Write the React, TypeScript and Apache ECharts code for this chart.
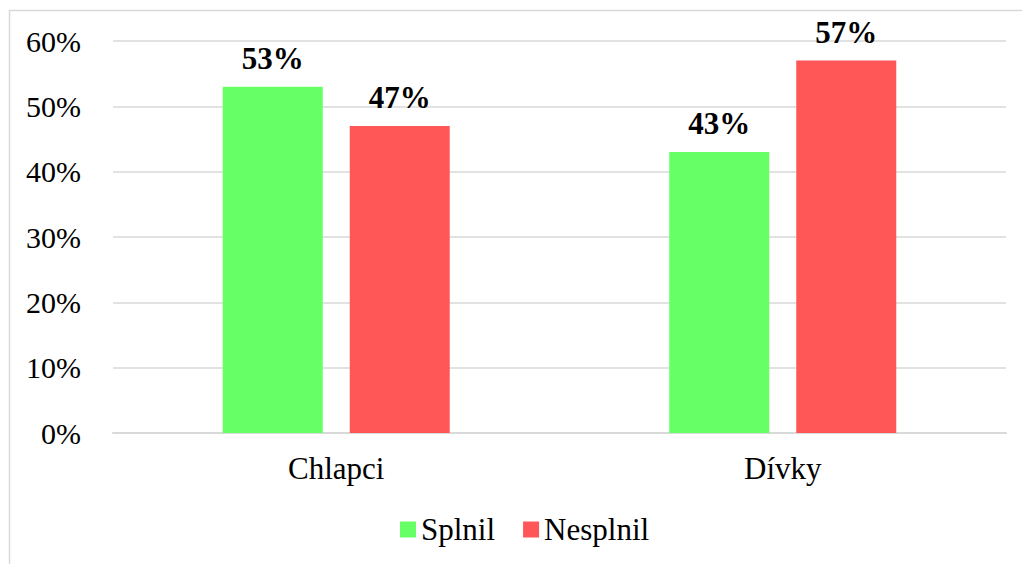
import React, { useEffect, useRef } from "react";
import * as echarts from "echarts";

const categories = ["Chlapci", "Dívky"];
const splnil = [53, 43];
const nesplnil = [47, 57];
const seriesNames = ["Splnil", "Nesplnil"];
const yTicks = [0, 10, 20, 30, 40, 50, 60];

const FONT = "Liberation Serif";

export default function App() {
  const ref = useRef<HTMLDivElement>(null);
  useEffect(() => {
    if (!ref.current) return;
    const chart = echarts.init(ref.current, null, { renderer: "svg" });
    const label = {
      show: true,
      position: "top",
      distance: 13,
      formatter: (p: any) => `${p.value}%`,
      fontFamily: FONT,
      fontSize: 31,
      fontWeight: "bold",
      color: "#000",
    };
    chart.setOption({
      animation: false,
      backgroundColor: "#fff",
      textStyle: { fontFamily: FONT },
      graphic: [
        {
          type: "rect",
          shape: { x: 9.5, y: 10.5, width: 1030, height: 600 },
          style: { fill: "none", stroke: "#d9d9d9", lineWidth: 1.5 },
          silent: true,
        },
      ],
      legend: {
        data: seriesNames,
        left: 395,
        top: 509,
        itemWidth: 16,
        itemHeight: 16,
        itemGap: 28,
        icon: "rect",
        textStyle: { fontFamily: FONT, fontSize: 31, color: "#000" },
      },
      grid: { left: 113, right: 16, top: 41, bottom: 131 },
      xAxis: {
        type: "category",
        data: categories,
        axisLine: { lineStyle: { color: "#d9d9d9", width: 2 } },
        axisTick: { show: false },
        axisLabel: { fontFamily: FONT, fontSize: 31, color: "#000", margin: 20 },
      },
      yAxis: {
        type: "value",
        min: yTicks[0],
        max: yTicks[yTicks.length - 1],
        interval: 10,
        axisLine: { show: false },
        axisTick: { show: false },
        splitLine: { lineStyle: { color: "#d9d9d9", width: 1.5 } },
        axisLabel: {
          fontFamily: FONT,
          fontSize: 30,
          color: "#000",
          margin: 32,
          formatter: (v: number) => `${v}%`,
        },
      },
      series: [
        {
          name: seriesNames[0],
          type: "bar",
          data: splnil,
          barWidth: 100,
          barGap: "27%",
          itemStyle: { color: "#66ff66" },
          label,
        },
        {
          name: seriesNames[1],
          type: "bar",
          data: nesplnil,
          barWidth: 100,
          itemStyle: { color: "#ff5757" },
          label,
        },
      ],
    });
    return () => chart.dispose();
  }, []);
  return (
    <div
      ref={ref}
      style={{ position: "absolute", left: 0, top: 0, width: 1022, height: 564 }}
    />
  );
}
